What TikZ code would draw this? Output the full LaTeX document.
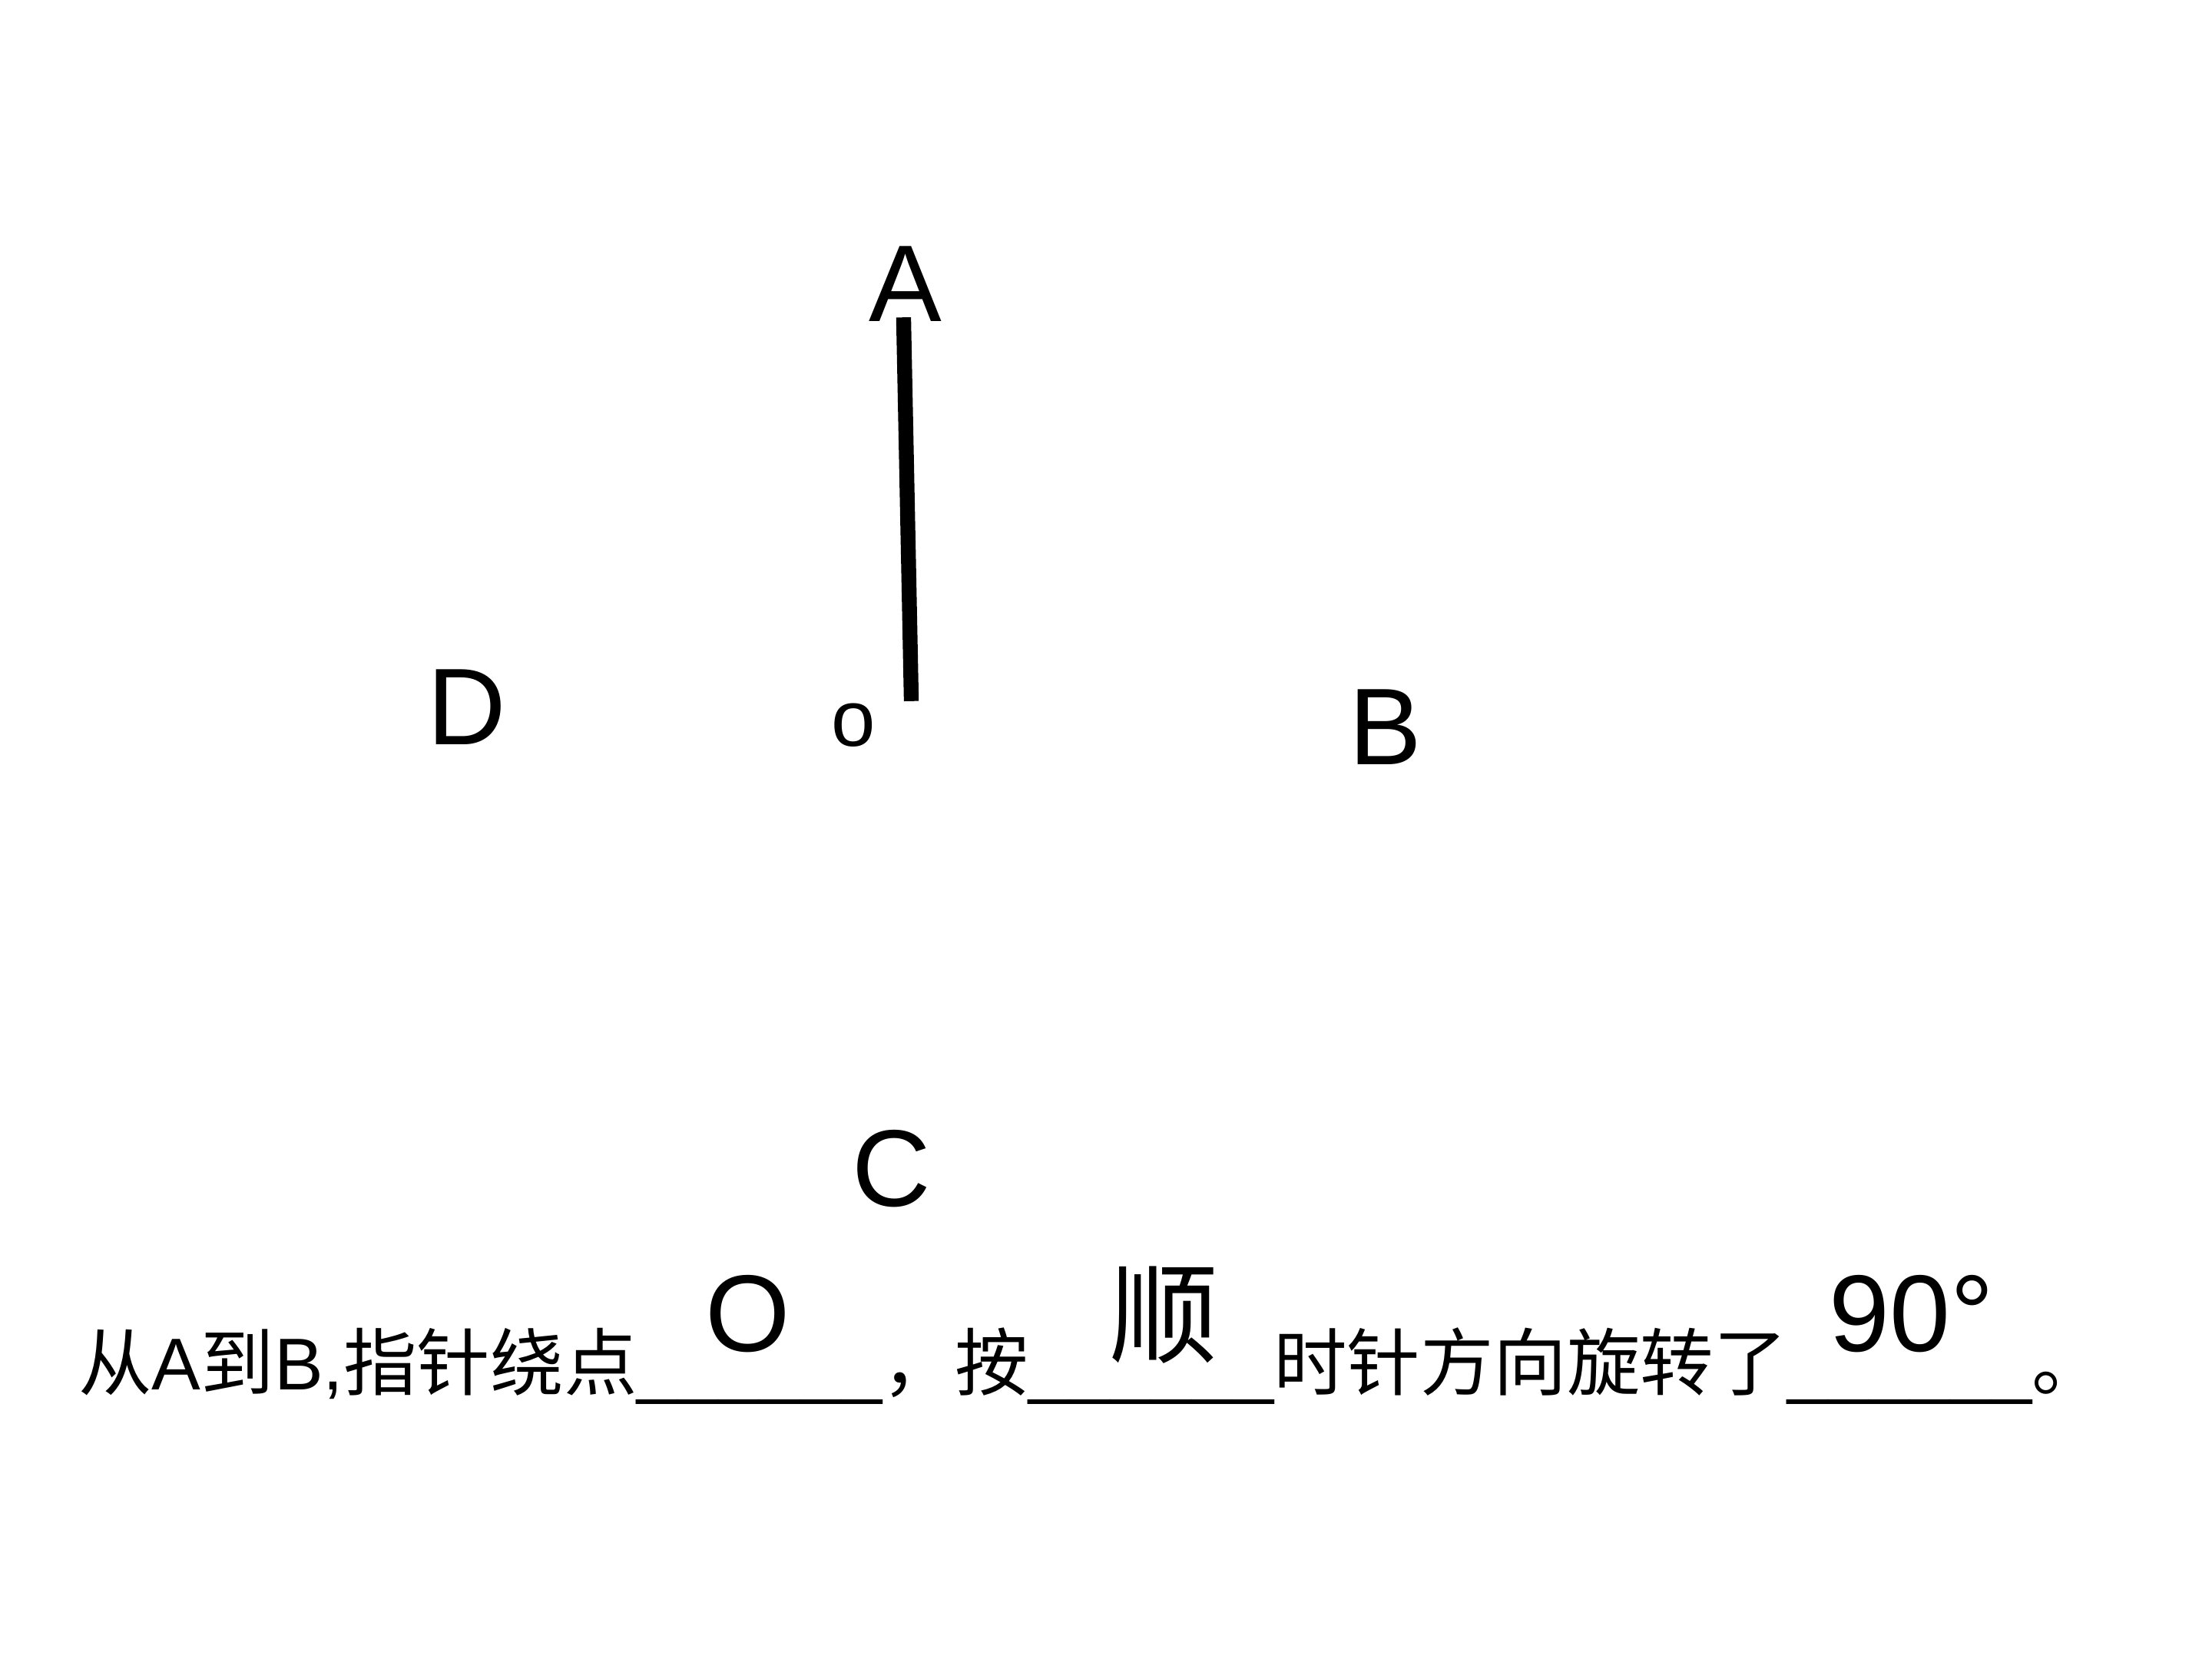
\documentclass[tikz,border=0pt]{standalone}
\usepackage{fontspec}
\setmainfont{Liberation Sans}
\newfontfamily\cjk{Noto Sans CJK SC}

\begin{document}
\begin{tikzpicture}[
            letter/.style={inner sep=0pt, anchor=base, font=\fontsize{22}{26}\selectfont},
            centre/.style={inner sep=0pt, anchor=base, font=\fontsize{16}{19}\selectfont},
            question/.style={inner sep=0pt, anchor=base west, font=\fontsize{14.8}{17}\selectfont},
            answer/.style={inner sep=0pt, anchor=base, font=\fontsize{22}{26}\selectfont},
            hand/.style={line width=3pt}
            ]
            \useasboundingbox (0,0) rectangle (15.68,11.76);
            
            % Dial letters
            \node[letter] (A) at (6.42,9.48) {A};
            \node[letter] (B) at (9.82,6.34) {B};
            \node[letter] (C) at (6.32,3.21) {C};
            \node[letter] (D) at (3.31,6.48) {D};
            \node[centre] (O) at (6.05,6.47) {o};
            
            % Pointer
            \coordinate (tip) at (6.405,9.51);
            \coordinate (pivot) at (6.46,6.79);
            \draw[hand] (tip) -- (pivot);
            
            % Question
            \node[question] (q) at (0.55,1.91) {{\cjk 从}A{\cjk 到}B,{\cjk 指针绕点}\_\_\_\_\_\_{\cjk ，按}\_\_\_\_\_\_{\cjk 时针方向旋转了}\_\_\_\_\_\_{\cjk 。}};
            
            % Answers
            \node[answer] (ansO) at (5.30,2.18) {O};
            \node[answer, font=\cjk\fontsize{22}{26}\selectfont] (ansdir) at (8.25,2.16) {顺};
            \node[answer] (ansangle) at (13.55,2.18) {90°};
            
        \end{tikzpicture}
\end{document}
